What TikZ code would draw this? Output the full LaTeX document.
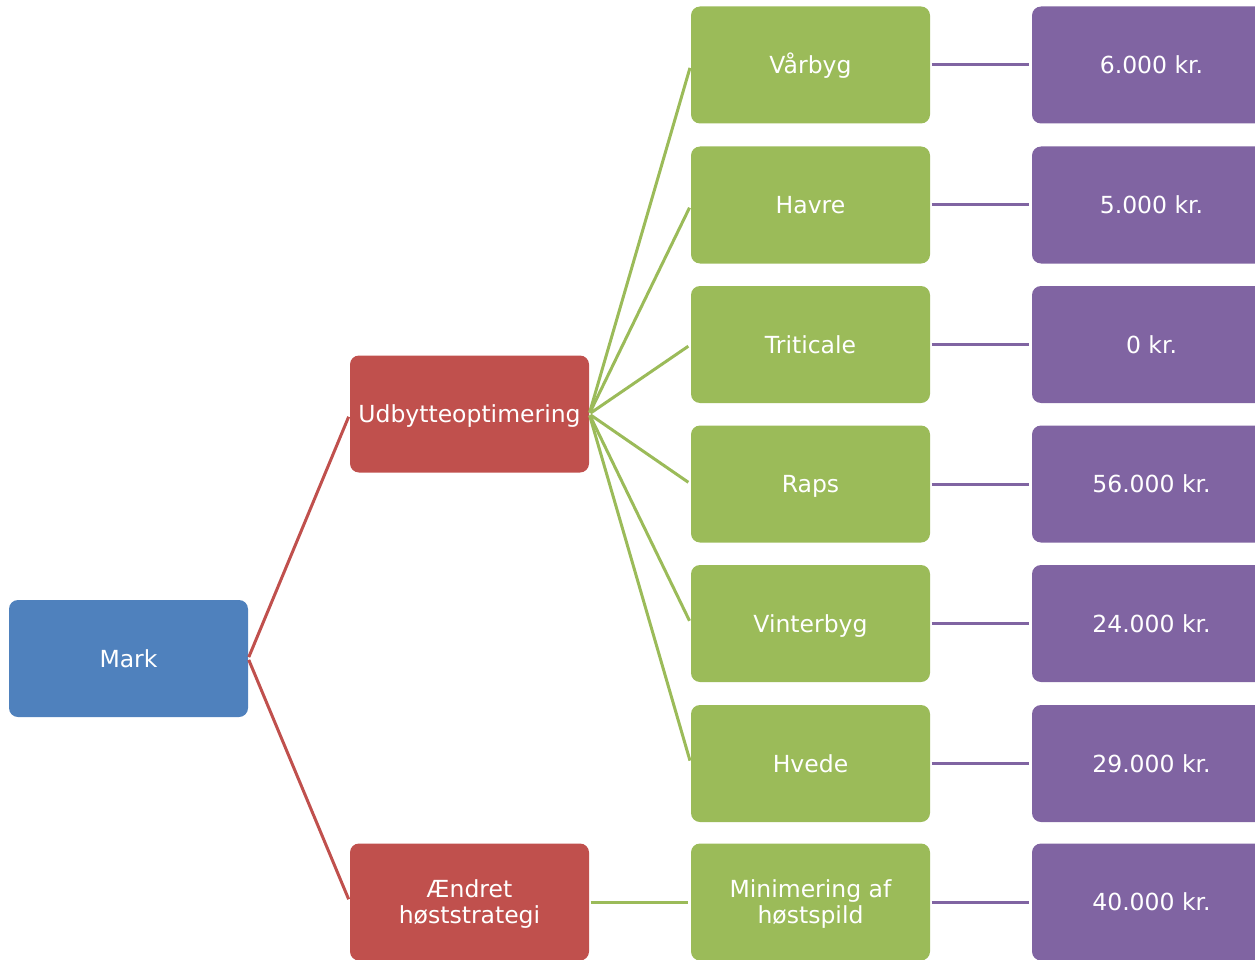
\documentclass[tikz,border=0pt]{standalone}
\usepackage{fontspec}
\setmainfont{DejaVu Sans}
\definecolor{markblue}{HTML}{4F81BD}
\definecolor{optred}{HTML}{C0504D}
\definecolor{cropgreen}{HTML}{9BBB59}
\definecolor{krpurple}{HTML}{8064A2}
\tikzset{
  box/.style={rectangle, rounded corners=9pt, minimum width=239pt, minimum height=117pt,
    inner sep=0pt, text=white, align=center, font=\fontsize{23.5}{26.5}\selectfont,
    text height=17pt, text depth=0pt},
  twolines/.style={text height=43.5pt, text depth=0pt},
  markbox/.style={box, fill=markblue},
  optbox/.style={box, fill=optred},
  cropbox/.style={box, fill=cropgreen},
  krbox/.style={box, fill=krpurple},
  link/.style={line width=3pt, shorten <=1.5pt, shorten >=3pt},
}
\begin{document}
\begin{tikzpicture}[x=1pt,y=1pt]
\useasboundingbox (0,0) rectangle (1255,-960);
\clip (0,0) rectangle (1255,-960);
% root and the two strategies
\node[markbox] (mark) at (128.5,-658.5) {Mark};
\node[optbox] (udb) at (469.5,-414) {Udbytteoptimering};
\node[optbox, twolines] (aendret) at (469.5,-902) {Ændret\\høststrategi};
\draw[link, optred] (mark.east) -- (udb.west);
\draw[link, optred] (mark.east) -- (aendret.west);
% crops and what they give
\foreach \name/\y/\txt/\kr in {vaar/65/Vårbyg/6.000, havre/205/Havre/5.000,
  tritic/344.5/Triticale/0, raps/484/Raps/56.000, vinter/623.5/Vinterbyg/24.000,
  hvede/763.5/Hvede/29.000}
{
  \node[cropbox] (\name) at (810.5,-\y) {\txt};
  \node[krbox] (\name kr) at (1151.5,-\y) {\kr\ kr.};
  \draw[link, cropgreen] (udb.east) -- (\name.west);
  \draw[link, krpurple] (\name) -- (\name kr);
}
% harvest strategy row
\node[cropbox, twolines] (spild) at (810.5,-902) {Minimering af\\høstspild};
\node[krbox] (spildkr) at (1151.5,-902) {40.000 kr.};
\draw[link, cropgreen] (aendret) -- (spild);
\draw[link, krpurple] (spild) -- (spildkr);
\end{tikzpicture}
\end{document}
